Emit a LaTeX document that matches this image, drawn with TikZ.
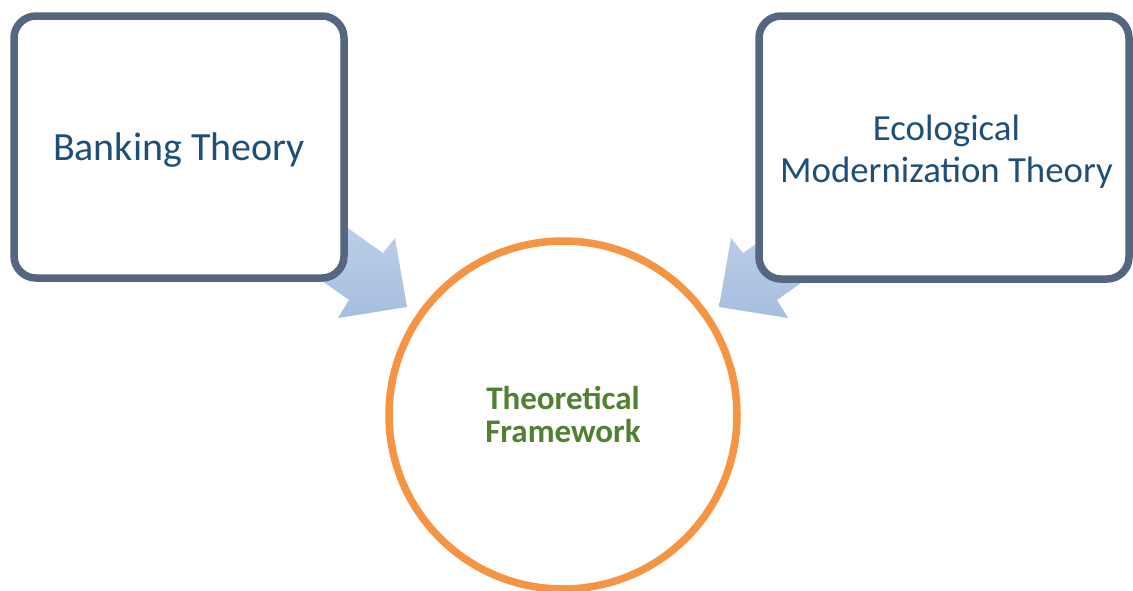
\documentclass[tikz,border=0pt]{standalone}
\usepackage{fontspec}
\setmainfont{Carlito}
\definecolor{boxline}{RGB}{84,102,128}
\definecolor{bluetxt}{RGB}{31,78,121}
\definecolor{orangeline}{RGB}{245,148,67}
\definecolor{greentxt}{RGB}{82,128,50}
\definecolor{arrowtop}{RGB}{190,210,234}
\definecolor{arrowbot}{RGB}{166,190,222}
\begin{document}
\begin{tikzpicture}[x=1pt,y=-1pt,
  theorybox/.style={draw=boxline, line width=7.5pt, rounded corners=22pt, fill=white, inner sep=0pt},
  bigarrow/.style={top color=arrowtop, bottom color=arrowbot, draw=none},
  focus/.style={circle, draw=orangeline, line width=7.5pt, fill=white, inner sep=0pt, minimum size=348pt},
  theorytext/.style={text=bluetxt, inner sep=0pt},
  focustext/.style={text=greentxt, inner sep=0pt, font=\bfseries\fontsize{33}{33}\selectfont}
]
\useasboundingbox (0,0) rectangle (1133,590);
% block arrows (tails hidden behind the boxes)
\coordinate (la1) at (318,207);
\coordinate (la2) at (383,253);
\coordinate (la3) at (395,238);
\coordinate (latip) at (407,307);
\coordinate (la5) at (338,318);
\coordinate (la6) at (349,300);
\coordinate (la7) at (284,254);
\path[bigarrow] (la1) -- (la2) -- (la3) -- (latip) -- (la5) -- (la6) -- (la7) -- cycle;
\coordinate (ra1) at (808,207);
\coordinate (ra2) at (743,253);
\coordinate (ra3) at (731,238);
\coordinate (ratip) at (719,307);
\coordinate (ra5) at (788,318);
\coordinate (ra6) at (777,300);
\coordinate (ra7) at (842,254);
\path[bigarrow] (ra1) -- (ra2) -- (ra3) -- (ratip) -- (ra5) -- (ra6) -- (ra7) -- cycle;
% boxes
\node[theorybox, minimum width=330pt, minimum height=262pt] (lb) at (179,147) {};
\node[theorybox, minimum width=370pt, minimum height=263pt] (rb) at (944,147.5) {};
\node[theorytext, anchor=base, font=\fontsize{40}{47}\selectfont] (lbt) at ([yshift=-13pt]lb.center) {Banking Theory};
\node[theorytext, anchor=base, align=center, font=\fontsize{36.8}{42}\selectfont] (rbt) at (946.5,182) {Ecological\\Modernization Theory};
% circle
\node[focus] (fw) at (563,415) {};
\node[focustext, anchor=base, align=center] (fwt) at (563,442) {Theoretical\\Framework};
\end{tikzpicture}
\end{document}
